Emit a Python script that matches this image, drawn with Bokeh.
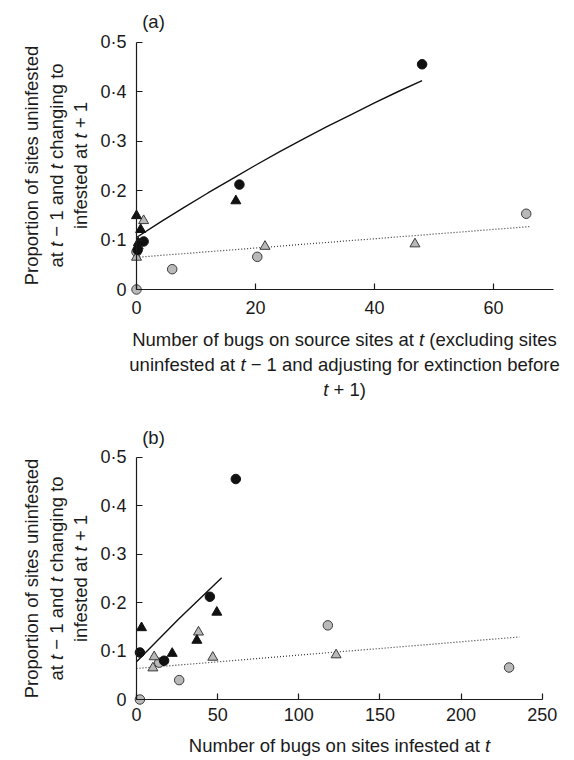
import math
from bokeh.plotting import figure
from bokeh.models import Label, CustomJSTickFormatter, FixedTicker, Range1d
from bokeh.layouts import column
from bokeh.embed import file_html
from bokeh.resources import INLINE

# ---------------- data: panel (a) ----------------
a_black_circle_x = [48.0, 17.3, 1.2, 0.2]
a_black_circle_y = [0.455, 0.212, 0.097, 0.080]
a_black_tri_x = [0.0, 0.7, 16.7, 0.3]
a_black_tri_y = [0.149, 0.121, 0.179, 0.094]
a_grey_circle_x = [65.5, 20.3, 6.0, 0.0, 0.0]
a_grey_circle_y = [0.153, 0.066, 0.041, 0.0, 0.076]
a_grey_tri_x = [1.2, 46.8, 21.6, 0.0, 0.3]
a_grey_tri_y = [0.139, 0.092, 0.087, 0.065, 0.088]
a_fit_solid_x = [0, 4, 8, 12, 16, 20, 24, 28, 32, 36, 40, 44, 48]
a_fit_solid_y = [0.105, 0.136, 0.166, 0.195, 0.223, 0.251, 0.278, 0.304,
                 0.329, 0.353, 0.377, 0.400, 0.422]
a_fit_dotted_x = [0, 66]
a_fit_dotted_y = [0.065, 0.127]
a_x_ticks = [0, 20, 40, 60]

# ---------------- data: panel (b) ----------------
b_black_circle_x = [61.2, 45.2, 2.1, 17.0]
b_black_circle_y = [0.455, 0.212, 0.097, 0.080]
b_black_tri_x = [3.1, 37.2, 49.5, 22.0]
b_black_tri_y = [0.148, 0.122, 0.180, 0.095]
b_grey_circle_x = [117.9, 229.6, 26.3, 14.0, 2.1]
b_grey_circle_y = [0.153, 0.066, 0.040, 0.076, 0.0]
b_grey_tri_x = [38.2, 123.0, 47.0, 10.1, 10.9]
b_grey_tri_y = [0.139, 0.092, 0.087, 0.065, 0.088]
b_fit_solid_x = [0, 26, 52.5]
b_fit_solid_y = [0.078, 0.166, 0.251]
b_fit_dotted_x = [0, 236]
b_fit_dotted_y = [0.064, 0.129]
b_x_ticks = [0, 50, 100, 150, 200, 250]

y_ticks = [0, 0.1, 0.2, 0.3, 0.4, 0.5]

FONT = "Liberation Sans"
TXT = "#1a1a1a"
TS = 18.5  # title font size
TK = 18    # tick font size

AW = {' ': 278, 'a': 556, 'b': 556, 'c': 500, 'd': 556, 'e': 556, 'f': 278, 'g': 556,
      'h': 556, 'i': 222, 'j': 222, 'k': 500, 'l': 222, 'm': 833, 'n': 556, 'o': 556,
      'p': 556, 'r': 333, 's': 500, 't': 278, 'u': 556, 'v': 500, 'w': 722, 'x': 500,
      'y': 500, 'N': 722, 'P': 667, '(': 333, ')': 333, '+': 584, '\u2212': 584, '1': 556}


def tw(s, size):
    return sum(AW.get(ch, 556) for ch in s) * size / 1000.0


class Geom:
    def __init__(self, H, xs, ys, xscale, yscale):
        self.H, self.xs, self.ys, self.xscale, self.yscale = H, xs, ys, xscale, yscale

    def dx(self, px):
        return self.xs + px / self.xscale

    def dy(self, py):
        return self.ys + (self.H - py) / self.yscale


def add_line(p, g, segs, cx, cy, size, rot=False):
    total = sum(tw(s, size) for s, _ in segs)
    pos = -total / 2.0
    for s, it in segs:
        lead = len(s) - len(s.lstrip(' '))
        core = s.strip(' ')
        start = pos + tw(' ' * lead, size)
        if core:
            if rot:
                px, py = cx, cy - start
            else:
                px, py = cx + start, cy
            p.add_layout(Label(x=g.dx(px), y=g.dy(py), text=core, text_font=FONT,
                               text_font_size=f"{size}px",
                               text_font_style="italic" if it else "normal",
                               text_align="left", text_baseline="middle",
                               angle=math.pi / 2 if rot else 0.0, text_color=TXT))
        pos += tw(s, size)


def make_panel(W, H, x0px, xscale, y0px, yscale, xbounds, xticks, xstand):
    # the frame covers the whole canvas; axes sit at data 0 inside it
    xs = -x0px / xscale
    xe = xs + W / xscale
    ys = -(H - y0px) / yscale
    ye = ys + H / yscale
    p = figure(width=W, height=H, x_range=Range1d(xs, xe), y_range=Range1d(ys, ye),
               output_backend="svg", toolbar_location=None,
               min_border_left=0, min_border_right=0, min_border_top=0,
               min_border_bottom=0)
    p.grid.visible = False
    p.outline_line_color = None
    p.background_fill_color = "white"
    p.border_fill_color = "white"
    xa = p.xaxis[0]
    ya = p.yaxis[0]
    xa.ticker = FixedTicker(ticks=xticks)
    ya.ticker = FixedTicker(ticks=y_ticks)
    ya.formatter = CustomJSTickFormatter(
        code="return tick == 0 ? '0' : tick.toFixed(1).replace('.', '\\u00b7');")
    xa.bounds = xbounds
    ya.bounds = (0, 0.5)
    for ax in (xa, ya):
        ax.fixed_location = 0
        ax.axis_line_color = TXT
        ax.axis_line_width = 1.2
        ax.major_tick_line_color = TXT
        ax.major_tick_line_width = 1.2
        ax.major_tick_in = 6
        ax.major_tick_out = 0
        ax.minor_tick_line_color = None
        ax.major_label_text_font = FONT
        ax.major_label_text_font_size = f"{TK}px"
        ax.major_label_text_color = TXT
    ya.major_label_standoff = 10
    xa.major_label_standoff = xstand
    return p, Geom(H, xs, ys, xscale, yscale)


def draw_data(p, sx, sy, dx_, dy_, bcx, bcy, btx, bty, gcx, gcy, gtx, gty):
    p.line(sx, sy, line_color="#111111", line_width=1.4)
    p.line(dx_, dy_, line_color="#333333", line_width=1.2, line_dash="1 2")
    p.scatter(gcx, gcy, marker="circle", size=9.5, fill_color="#b9b9b9",
              line_color="#3a3a3a", line_width=1)
    p.scatter(gtx, gty, marker="triangle", size=10, fill_color="#b9b9b9",
              line_color="#3a3a3a", line_width=1)
    p.scatter(bcx, bcy, marker="circle", size=9.5, fill_color="#111111",
              line_color="#111111", line_width=1)
    p.scatter(btx, bty, marker="triangle", size=10, fill_color="#111111",
              line_color="#111111", line_width=1)


W = 574
HA = 404
HB = 356

pa, ga = make_panel(W, HA, x0px=136, xscale=5.95, y0px=289, yscale=495.0,
                    xbounds=(0, 70), xticks=a_x_ticks, xstand=11)
draw_data(pa, a_fit_solid_x, a_fit_solid_y, a_fit_dotted_x, a_fit_dotted_y,
          a_black_circle_x, a_black_circle_y, a_black_tri_x, a_black_tri_y,
          a_grey_circle_x, a_grey_circle_y, a_grey_tri_x, a_grey_tri_y)

pb, gb = make_panel(W, HB, x0px=136, xscale=1.6228, y0px=295, yscale=484.6,
                    xbounds=(0, 250), xticks=b_x_ticks, xstand=8)
draw_data(pb, b_fit_solid_x, b_fit_solid_y, b_fit_dotted_x, b_fit_dotted_y,
          b_black_circle_x, b_black_circle_y, b_black_tri_x, b_black_tri_y,
          b_grey_circle_x, b_grey_circle_y, b_grey_tri_x, b_grey_tri_y)

MINUS = "\u2212"
ytitle = [
    [("Proportion of sites uninfested", False)],
    [("at ", False), ("t", True), (" " + MINUS + " 1 and ", False), ("t", True), (" changing to", False)],
    [("infested at ", False), ("t", True), (" + 1", False)],
]
xtitle_a = [
    [("Number of bugs on source sites at ", False), ("t", True), (" (excluding sites", False)],
    [("uninfested at ", False), ("t", True), (" " + MINUS + " 1 and adjusting for extinction before", False)],
    [("t", True), (" + 1)", False)],
]
xtitle_b = [[("Number of bugs on sites infested at ", False), ("t", True)]]

for p, g, cy in ((pa, ga, 165), (pb, gb, 174)):
    for i, segs in enumerate(ytitle):
        add_line(p, g, segs, 31 + 24.5 * i, cy, TS, rot=True)

for i, segs in enumerate(xtitle_a):
    add_line(pa, ga, segs, 344, 339 + 25 * i, TS)
add_line(pb, gb, xtitle_b[0], 339, 341, TS)

add_line(pa, ga, [("(a)", False)], 153, 21, TS)
add_line(pb, gb, [("(b)", False)], 153, 33, TS)

layout = column(pa, pb)
open("out.html", "w").write(file_html(layout, INLINE))
